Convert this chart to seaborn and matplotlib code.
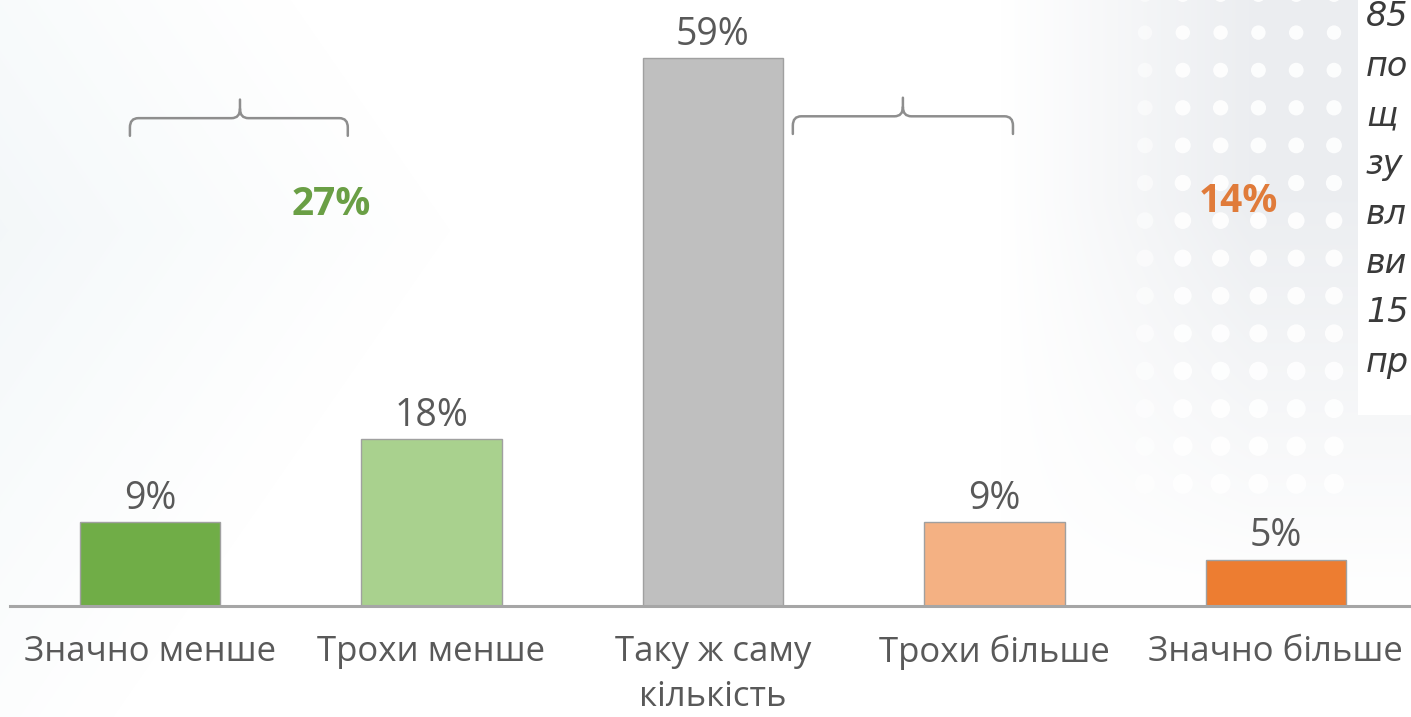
import numpy as np
import pandas as pd
import matplotlib
matplotlib.use("Agg")
import matplotlib.pyplot as plt
import seaborn as sns
from matplotlib.patches import Rectangle, Circle, PathPatch
from matplotlib.path import Path

# -----------------------------
# Data
# -----------------------------
categories = ["Значно менше", "Трохи менше", "Таку ж саму\nкількість",
              "Трохи більше", "Значно більше"]
values = [9, 18, 59, 9, 5]
bar_colors = ["#70AD47", "#A9D18E", "#BFBFBF", "#F4B183", "#ED7D31"]

group_labels = ["27%", "14%"]
group_colors = ["#6A9F45", "#E07B3A"]

side_text = ["85", "по", "щ", "зу", "вл", "ви", "15", "пр"]

df = pd.DataFrame({"answer": categories, "share": values})

sns.set_theme(style="white")
plt.rcParams['font.family'] = ['Open Sans', 'DejaVu Sans']

fig = plt.figure(figsize=(14.11, 7.17), dpi=100)

# -----------------------------
# Background decoration (pixel space)
# -----------------------------
bg = fig.add_axes([0, 0, 1, 1], zorder=0)
bg.set_xlim(0, 1411)
bg.set_ylim(717, 0)
bg.axis("off")

yy, xx = np.mgrid[0:717, 0:1411]
tint_left = np.clip(1 - xx / 450 - np.abs(yy - 230) / 650, 0, 1) ** 1.1
tint_right = np.clip((xx - 1000) / 250, 0, 1) * np.clip(1 - (yy - 200) / 400, 0, 1)
img = np.ones((717, 1411, 3))
img = img * (1 - 0.2 * tint_left[..., None]) + 0.2 * tint_left[..., None] * np.array([0.78, 0.86, 0.89])
img = img * (1 - tint_right[..., None]) + tint_right[..., None] * np.array([0.925, 0.933, 0.945])
bg.imshow(np.clip(img, 0, 1), extent=(0, 1411, 717, 0), aspect="auto")

for cx in np.arange(1145, 1340, 37.8):
    for cy in np.arange(-5, 490, 37.6):
        r = 7 + 3 * cy / 490
        a = 0.9 if cx > 1170 else 0.5
        bg.add_patch(Circle((cx, cy), r, color="white", alpha=a, lw=0))

bg.add_patch(Rectangle((1358, 0), 60, 415, color="white", lw=0))

for i, t in enumerate(side_text):
    bg.text(1366, 17 + 49.3 * i, t, fontsize=24, style="italic", color="#3a3a3a",
            va="center", ha="left", family=["DejaVu Sans"])

# -----------------------------
# Bar chart
# -----------------------------
ax = fig.add_axes([10 / 1411, 111 / 717, 1 - 10 / 1411, 604 / 717], zorder=1)
ax.patch.set_alpha(0)

sns.barplot(data=df, x="answer", y="share", hue="answer", palette=bar_colors,
            legend=False, width=0.5, saturation=1, edgecolor="#a0a0a0",
            linewidth=1, ax=ax)

for c in ax.containers:
    ax.bar_label(c, fmt="{:.0f}%", padding=3, fontsize=27, color="#595959")

ax.set_xlim(-0.497, 4.48)
ax.set_ylim(0, 65)
ax.set_yticks([])
ax.set_xlabel("")
ax.set_ylabel("")
for s in ["left", "right", "top"]:
    ax.spines[s].set_visible(False)
ax.spines["bottom"].set_color("#a6a6a6")
ax.spines["bottom"].set_linewidth(2.2)
ax.tick_params(axis="x", length=0, pad=21, labelsize=25, labelcolor="#595959")
for lbl in ax.get_xticklabels():
    lbl.set_linespacing(1.4)


# curly brackets over the groups
def bracket(x0, x1, xm, y, drop, rise, r=0.03):
    ry = 1.0
    verts = [(x0, y - drop), (x0, y - ry), (x0, y), (x0 + r, y),
             (xm - r, y), (xm, y), (xm, y + ry), (xm, y + rise),
             (xm, y + ry), (xm, y), (xm + r, y),
             (x1 - r, y), (x1, y), (x1, y - ry), (x1, y - drop)]
    codes = [Path.MOVETO, Path.LINETO, Path.CURVE3, Path.CURVE3,
             Path.LINETO, Path.CURVE3, Path.CURVE3, Path.LINETO,
             Path.MOVETO, Path.CURVE3, Path.CURVE3,
             Path.LINETO, Path.CURVE3, Path.CURVE3, Path.LINETO]
    ax.add_patch(PathPatch(Path(verts, codes), fill=False, ec="#8e8e8e",
                           lw=1.8, capstyle="round"))


bracket(-0.071, 0.703, 0.320, 52.5, 1.9, 2.0)
bracket(2.284, 3.066, 2.675, 52.7, 1.9, 2.0)

ax.text(0.643, 43.2, group_labels[0], fontsize=28, fontweight="bold",
        color=group_colors[0], ha="center", va="center")
ax.text(3.868, 43.5, group_labels[1], fontsize=28, fontweight="bold",
        color=group_colors[1], ha="center", va="center")

fig.savefig("out.png", dpi=100)
